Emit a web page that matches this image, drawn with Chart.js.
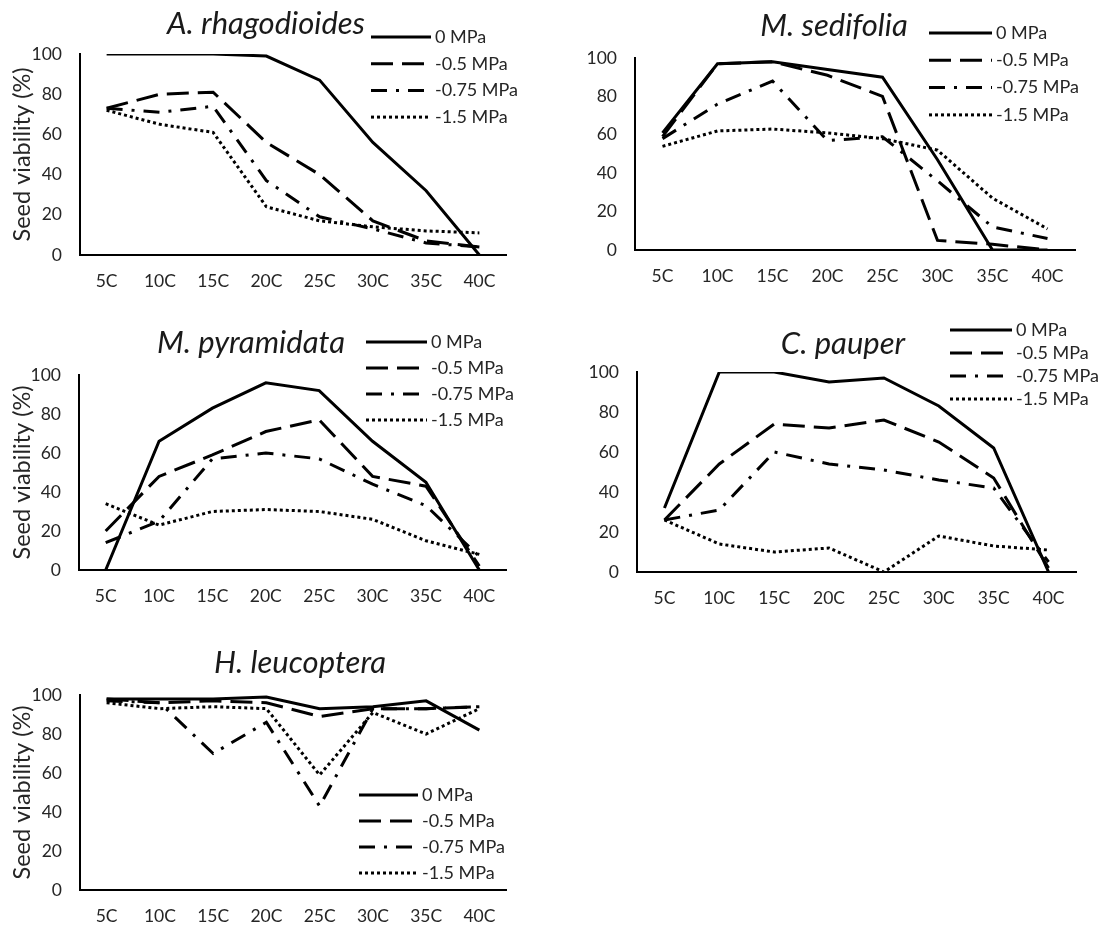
<!DOCTYPE html>
<html>
<head>
<meta charset="utf-8">
<script src="https://cdn.jsdelivr.net/npm/chart.js@4"></script>
<style>
    html, body { margin: 0; padding: 0; background: #fff; }
    body { width: 1107px; height: 929px; position: relative; overflow: hidden; }
    canvas { position: absolute; }
</style>
</head>
<body>
<canvas id="c1"></canvas>
<canvas id="c2"></canvas>
<canvas id="c3"></canvas>
<canvas id="c4"></canvas>
<canvas id="c5"></canvas>
<script>
// ================= DATA =================

const temps = ['5C', '10C', '15C', '20C', '25C', '30C', '35C', '40C'];
const seriesLabels = ['0 MPa', '-0.5 MPa', '-0.75 MPa', '-1.5 MPa'];

const rhagodioides0   = [100, 100, 100, 99, 87, 56, 32, 0];
const rhagodioides05  = [73, 80, 81, 56, 40, 17, 7, 4];
const rhagodioides075 = [73, 71, 74, 37, 19, 13, 6, 4];
const rhagodioides15  = [72, 65, 61, 24, 17, 14, 12, 11];

const sedifolia0   = [61, 97, 98, 94, 90, 47, 0, 0];
const sedifolia05  = [59, 97, 98, 91, 80, 5, 3, 0];
const sedifolia075 = [58, 76, 88, 57, 59, 36, 12, 6];
const sedifolia15  = [54, 62, 63, 61, 58, 52, 27, 11];

const pyramidata0   = [0, 66, 83, 96, 92, 66, 45, 0];
const pyramidata05  = [20, 48, 59, 71, 77, 48, 43, 2];
const pyramidata075 = [14, 25, 57, 60, 57, 44, 33, 7];
const pyramidata15  = [34, 23, 30, 31, 30, 26, 15, 8];

const pauper0   = [32, 100, 100, 95, 97, 83, 62, 0];
const pauper05  = [26, 54, 74, 72, 76, 65, 47, 2];
const pauper075 = [26, 31, 60, 54, 51, 46, 42, 5];
const pauper15  = [26, 14, 10, 12, 0, 18, 13, 11];

const leucoptera0   = [98, 98, 98, 99, 93, 94, 97, 82];
const leucoptera05  = [98, 96, 97, 96, 89, 93, 93, 94];
const leucoptera075 = [97, 96, 70, 86, 43, 93, 93, 94];
const leucoptera15  = [96, 93, 94, 93, 59, 91, 80, 93];

// ================= STYLE / LAYOUT =================

const FONT = 'Lato, "Open Sans", sans-serif';
const dashes = [[], [22, 9], [16, 9, 3, 9], [3, 3]];

// canvas box and plot box in page pixels, title / legend spots in page pixels
const panels = [
    { id: 'c1', name: 'A. rhagodioides', data: [rhagodioides0, rhagodioides05, rhagodioides075, rhagodioides15],
      canvas: [0, 0, 550, 300], plot: [80, 54, 506, 255], yTitle: true,
      title: [266, 24], legend: [371, 431, 37, 26.7] },
    { id: 'c2', name: 'M. sedifolia', data: [sedifolia0, sedifolia05, sedifolia075, sedifolia15],
      canvas: [550, 0, 557, 300], plot: [635, 58, 1075, 250], yTitle: false,
      title: [834, 26], legend: [929, 992, 33, 27.3] },
    { id: 'c3', name: 'M. pyramidata', data: [pyramidata0, pyramidata05, pyramidata075, pyramidata15],
      canvas: [0, 300, 550, 310], plot: [79, 375, 506, 570], yTitle: true,
      title: [251, 343], legend: [366, 427, 342, 26] },
    { id: 'c4', name: 'C. pauper', data: [pauper0, pauper05, pauper075, pauper15],
      canvas: [550, 300, 557, 310], plot: [637, 372, 1076, 572], yTitle: false,
      title: [843, 344], legend: [950, 1012, 330, 23] },
    { id: 'c5', name: 'H. leucoptera', data: [leucoptera0, leucoptera05, leucoptera075, leucoptera15],
      canvas: [0, 620, 550, 309], plot: [80, 695, 506, 890], yTitle: true,
      title: [300, 663], legend: [359, 418, 795, 26] }
];

// ================= TITLE + LEGEND PLUGIN =================

const panelDecor = {
    id: 'panelDecor',
    afterDraw(chart, args, opts) {
        const ctx = chart.ctx;
        ctx.save();

        ctx.fillStyle = '#1a1a1a';
        ctx.font = `italic 31px ${FONT}`;
        ctx.textAlign = 'center';
        ctx.textBaseline = 'middle';
        ctx.fillText(opts.title, opts.titleX, opts.titleY);

        ctx.font = `18px ${FONT}`;
        ctx.textAlign = 'left';
        chart.data.datasets.forEach((ds, i) => {
            const y = opts.legendY + i * opts.legendGap;
            ctx.strokeStyle = ds.borderColor;
            ctx.lineWidth = ds.borderWidth;
            ctx.setLineDash(ds.borderDash);
            ctx.beginPath();
            ctx.moveTo(opts.legendX1, y);
            ctx.lineTo(opts.legendX2, y);
            ctx.stroke();
            ctx.setLineDash([]);
            ctx.fillStyle = '#262626';
            ctx.fillText(ds.label, opts.legendX2 + 4, y);
        });

        ctx.restore();
    }
};

// ================= CHARTS =================

function buildPanel(p) {
    const [cx, cy, cw, ch] = p.canvas;
    const [pl, pt, pr, pb] = p.plot;
    const el = document.getElementById(p.id);
    el.width = cw;
    el.height = ch;
    el.style.left = cx + 'px';
    el.style.top = cy + 'px';

    const datasets = p.data.map((values, i) => ({
        label: seriesLabels[i],
        data: values,
        borderColor: '#000',
        borderWidth: 3,
        borderDash: dashes[i],
        pointRadius: 0,
        tension: 0,
        fill: false
    }));

    new Chart(el, {
        type: 'line',
        data: { labels: temps, datasets },
        options: {
            responsive: false,
            animation: false,
            devicePixelRatio: 1,
            layout: { padding: { top: pt - cy, right: cx + cw - pr, left: 0, bottom: 0 } },
            plugins: {
                legend: { display: false },
                title: { display: false },
                tooltip: { enabled: false },
                panelDecor: {
                    title: p.name,
                    titleX: p.title[0] - cx,
                    titleY: p.title[1] - cy,
                    legendX1: p.legend[0] - cx,
                    legendX2: p.legend[1] - cx,
                    legendY: p.legend[2] - cy,
                    legendGap: p.legend[3]
                }
            },
            scales: {
                x: {
                    offset: true,
                    grid: { display: false, drawTicks: false },
                    border: { display: true, color: '#000', width: 2 },
                    ticks: { color: '#262626', font: { family: FONT, size: 17.5 }, padding: 16, maxRotation: 0 },
                    afterFit: s => { s.height = cy + ch - pb; }
                },
                y: {
                    min: 0,
                    max: 100,
                    grid: { display: false, drawTicks: false },
                    border: { display: true, color: '#000', width: 2 },
                    ticks: { stepSize: 20, color: '#262626', font: { family: FONT, size: 17.5 }, padding: 18 },
                    title: {
                        display: p.yTitle,
                        text: 'Seed viability (%)',
                        color: '#262626',
                        font: { family: FONT, size: 23.5 },
                        padding: { top: 8, bottom: 0 }
                    },
                    afterFit: s => { s.width = pl - cx; }
                }
            }
        },
        plugins: [panelDecor]
    });
}

document.addEventListener('DOMContentLoaded', () => {
    panels.forEach(buildPanel);
});
</script>
</body>
</html>
